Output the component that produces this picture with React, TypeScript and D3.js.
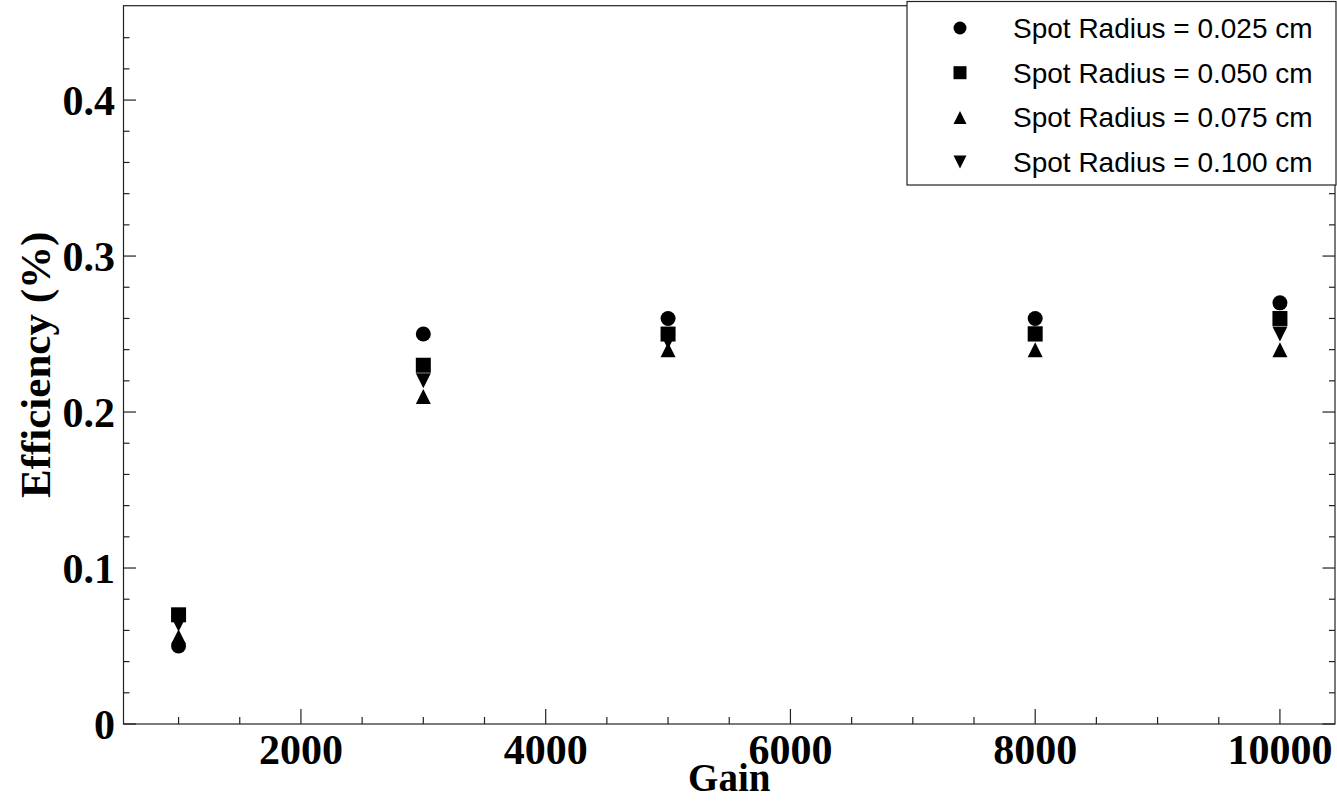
import React from "react";
import * as d3 from "d3";

// gain points and efficiency for each spot radius
const gains = [1000, 3000, 5000, 8000, 10000];
const eff025 = [0.05, 0.25, 0.26, 0.26, 0.27];
const eff050 = [0.07, 0.23, 0.25, 0.25, 0.26];
const eff075 = [0.056, 0.21, 0.24, 0.24, 0.24];
const eff100 = [0.064, 0.22, 0.245, 0.25, 0.25];

const seriesNames = [
  "Spot Radius = 0.025 cm",
  "Spot Radius = 0.050 cm",
  "Spot Radius = 0.075 cm",
  "Spot Radius = 0.100 cm",
];

const xTicks = [2000, 4000, 6000, 8000, 10000];
const yTicks = [0, 0.1, 0.2, 0.3, 0.4];

// ROOT style triangles, centred in their box
const triUp = {
  draw(ctx: any, size: number) {
    const s = Math.sqrt(size) / 2;
    ctx.moveTo(0, -s);
    ctx.lineTo(s, s);
    ctx.lineTo(-s, s);
    ctx.closePath();
  },
};
const triDown = {
  draw(ctx: any, size: number) {
    const s = Math.sqrt(size) / 2;
    ctx.moveTo(0, s);
    ctx.lineTo(s, -s);
    ctx.lineTo(-s, -s);
    ctx.closePath();
  },
};

const symbols = [
  d3.symbol(d3.symbolCircle, Math.PI * 7.5 * 7.5),
  d3.symbol(d3.symbolSquare, 15 * 15),
  d3.symbol(triUp, 15 * 15),
  d3.symbol(triDown, 15 * 15),
];
const legendSymbols = [
  d3.symbol(d3.symbolCircle, Math.PI * 6.5 * 6.5),
  d3.symbol(d3.symbolSquare, 13 * 13),
  d3.symbol(triUp, 13 * 13),
  d3.symbol(triDown, 13 * 13),
];

export default function App() {
  const w = 1337,
    h = 801;
  const frame = { left: 123.5, right: 1335, top: 5.7, bottom: 724 };

  const x = d3.scaleLinear().domain([550, 10450]).range([frame.left, frame.right]);
  const y = d3.scaleLinear().domain([0, 0.4605]).range([frame.bottom, frame.top]);

  const allSeries = [eff025, eff050, eff075, eff100];

  const xMinor = d3.range(1000, 10001, 500).filter((v) => v % 2000 !== 0);
  const yMinor = d3.range(0.02, 0.46, 0.02).filter((v) => Math.abs(v * 10 - Math.round(v * 10)) > 1e-6);

  const serif = "'Liberation Serif', 'Times New Roman', serif";
  const sans = "'Liberation Sans', Arial, sans-serif";

  return (
    <svg
      width={w}
      height={h}
      style={{ position: "absolute", left: 0, top: 0, background: "#fff" }}
    >
      <rect x={0} y={0} width={w} height={h} fill="#fff" />
      {/* frame */}
      <rect
        x={frame.left}
        y={frame.top}
        width={frame.right - frame.left}
        height={frame.bottom - frame.top}
        fill="none"
        stroke="#222"
        strokeWidth={1.2}
      />

      {/* x ticks */}
      {xTicks.map((t) => (
        <line key={"xt" + t} x1={x(t)} x2={x(t)} y1={frame.bottom} y2={frame.bottom - 15} stroke="#222" strokeWidth={1.2} />
      ))}
      {xMinor.map((t) => (
        <line key={"xm" + t} x1={x(t)} x2={x(t)} y1={frame.bottom} y2={frame.bottom - 7} stroke="#222" strokeWidth={1.2} />
      ))}

      {/* y ticks, left and right */}
      {yTicks.map((t) => (
        <g key={"yt" + t}>
          <line x1={frame.left} x2={frame.left + 12.5} y1={y(t)} y2={y(t)} stroke="#222" strokeWidth={1.2} />
          <line x1={frame.right} x2={frame.right - 12.5} y1={y(t)} y2={y(t)} stroke="#222" strokeWidth={1.2} />
        </g>
      ))}
      {yMinor.map((t, i) => (
        <g key={"ym" + i}>
          <line x1={frame.left} x2={frame.left + 6} y1={y(t)} y2={y(t)} stroke="#222" strokeWidth={1.2} />
          <line x1={frame.right} x2={frame.right - 6} y1={y(t)} y2={y(t)} stroke="#222" strokeWidth={1.2} />
        </g>
      ))}

      {/* tick labels */}
      {xTicks.map((t) => (
        <text
          key={"xl" + t}
          x={x(t)}
          y={764}
          textAnchor="middle"
          fontFamily={serif}
          fontWeight="bold"
          fontSize={42}
        >
          {t}
        </text>
      ))}
      {yTicks.map((t) => (
        <text
          key={"yl" + t}
          x={115}
          y={y(t) + 14.5}
          textAnchor="end"
          fontFamily={serif}
          fontWeight="bold"
          fontSize={42}
        >
          {t === 0 ? "0" : t.toFixed(1)}
        </text>
      ))}

      {/* axis titles */}
      <text
        x={(frame.left + frame.right) / 2}
        y={791}
        textAnchor="middle"
        fontFamily={serif}
        fontWeight="bold"
        fontSize={39}
      >
        Gain
      </text>
      <text
        transform={`translate(50,${(frame.top + frame.bottom) / 2}) rotate(-90)`}
        textAnchor="middle"
        fontFamily={serif}
        fontWeight="bold"
        fontSize={43}
      >
        Efficiency (%)
      </text>

      {/* markers */}
      {allSeries.map((vals, s) => (
        <g key={"s" + s}>
          {vals.map((v, i) => (
            <path
              key={i}
              d={symbols[s]() as string}
              transform={`translate(${x(gains[i])},${y(v)})`}
              fill="#000"
            />
          ))}
        </g>
      ))}

      {/* legend */}
      <rect x={907} y={1.5} width={1336 - 907} height={183.5} fill="#fff" stroke="#222" strokeWidth={1.2} />
      {seriesNames.map((name, i) => {
        const ly = 28 + i * 44.7;
        return (
          <g key={"lg" + i}>
            <path d={legendSymbols[i]() as string} transform={`translate(960,${ly})`} fill="#000" />
            <text x={1013} y={ly + 10} fontFamily={sans} fontSize={28} fill="#000">
              {name}
            </text>
          </g>
        );
      })}
    </svg>
  );
}
